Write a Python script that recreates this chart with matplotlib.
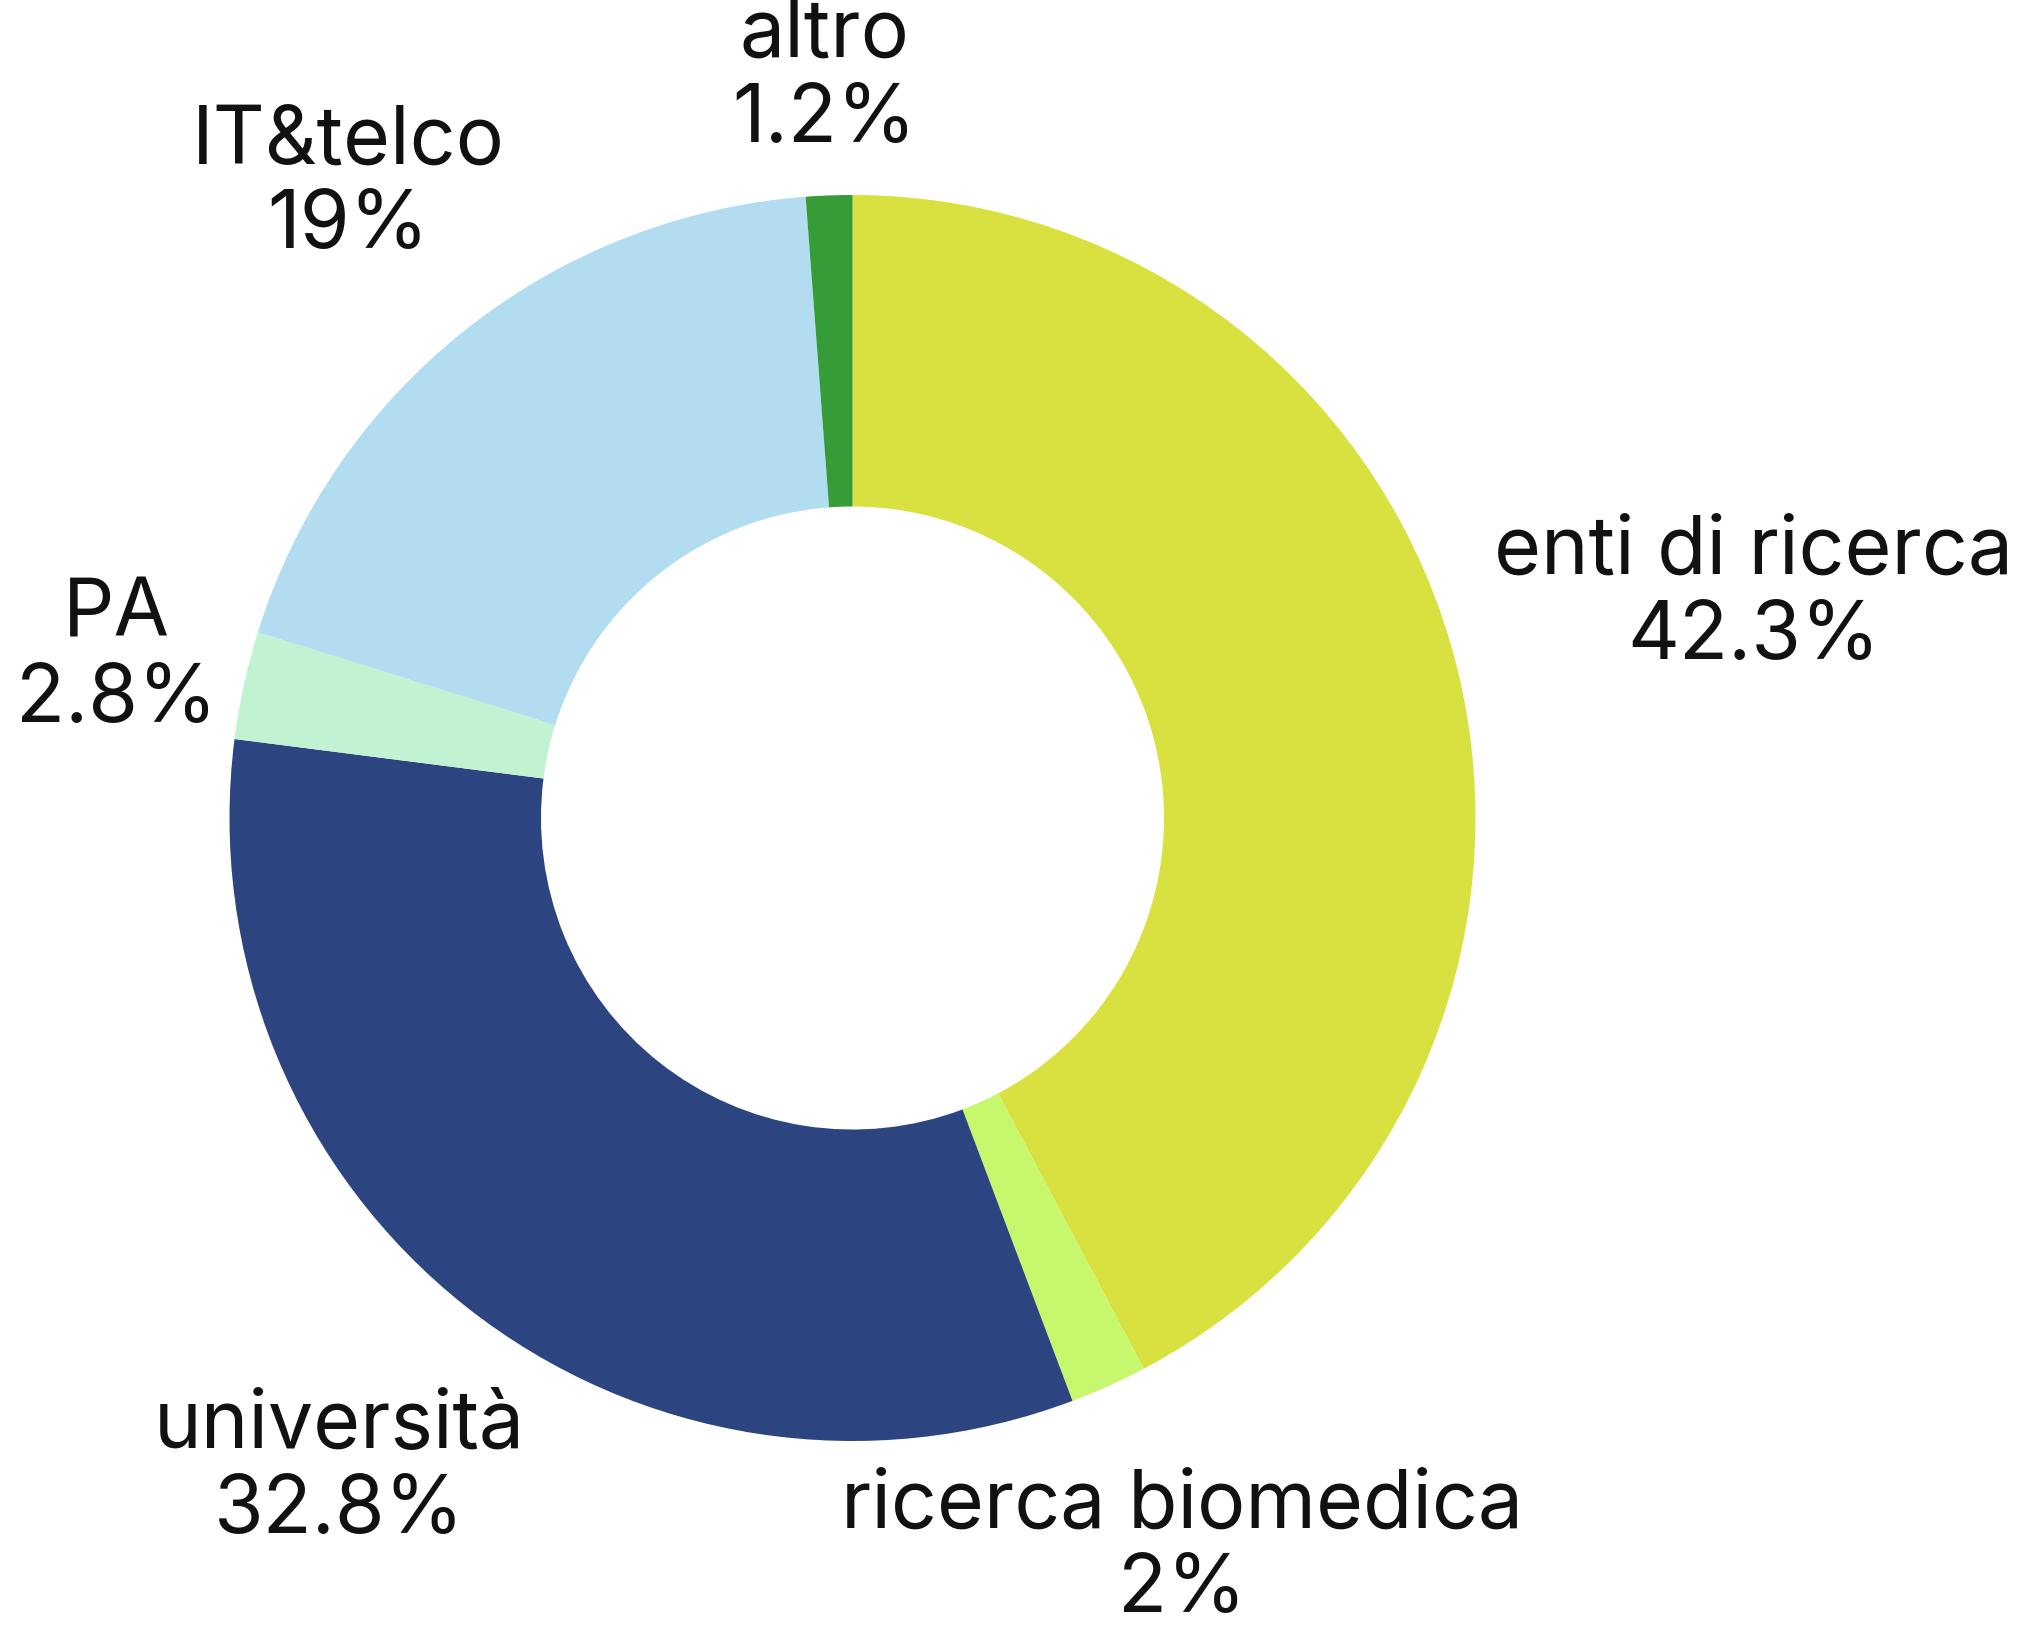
#!/usr/bin/env python3
"""Donut chart: distribution by sector"""

import matplotlib.pyplot as plt
import numpy as np

plt.rcParams['font.family'] = ['Inter', 'DejaVu Sans']

labels = ['enti di ricerca', 'ricerca biomedica', 'università', 'PA', 'IT&telco', 'altro']
values = [42.3, 2.0, 32.8, 2.8, 19.0, 1.2]
value_text = ['42.3%', '2%', '32.8%', '2.8%', '19%', '1.2%']
colors = ['#d9e141', '#c6f76c', '#2c4580', '#c1f2d2', '#b2dcf0', '#359c37']

# layout: distance of each label centre from the ring centre (in radii)
label_r = [1.49, 1.285, 1.33, 1.21, 1.30, 1.19]

W, H = 2041, 1631
R_PX = 623.0
CX, CY = 852.5, 819.0

fig = plt.figure(figsize=(W / 100, H / 100), dpi=100)
ax = fig.add_axes([0, 0, 1, 1])

wedges, _ = ax.pie(values, colors=colors, startangle=90, counterclock=False,
                   radius=1.0, wedgeprops=dict(width=0.5, linewidth=0),
                   normalize=True)

# pie() resets limits, so put the ring where the reference has it
ax.set_xlim(-CX / R_PX, (W - CX) / R_PX)
ax.set_ylim(-(H - CY) / R_PX, CY / R_PX)
ax.set_aspect('equal')
ax.axis('off')

# labels centred on the mid-angle ray of each slice
for w, lab, vt, r in zip(wedges, labels, value_text, label_r):
    ang = np.deg2rad((w.theta1 + w.theta2) / 2)
    ax.text(r * np.cos(ang), r * np.sin(ang), f'{lab}\n{vt}',
            ha='center', va='center', fontsize=58, color='#111111',
            linespacing=1.15)

plt.savefig('out.png', dpi=100, facecolor='white')
plt.close()
